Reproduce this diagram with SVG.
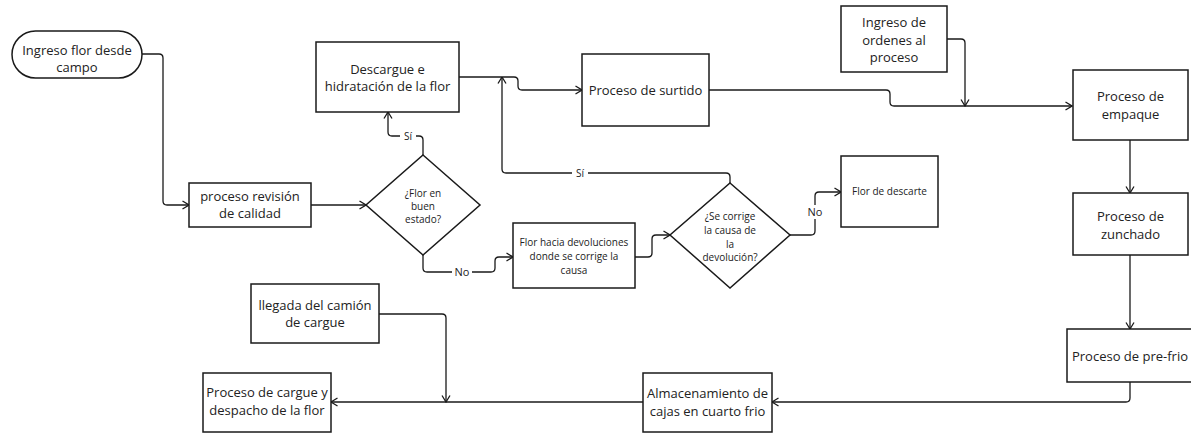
<svg xmlns="http://www.w3.org/2000/svg" width="1191" height="433" viewBox="0 0 1191 433">
<style>
.box{fill:#fff;stroke:#1a1a1a;stroke-width:1.5}
.t{font-family:"Open Sans","Noto Sans",sans-serif;font-size:13px;fill:#222;text-anchor:middle}
.s{font-family:"Open Sans","Noto Sans",sans-serif;font-size:10px;fill:#222;text-anchor:middle}
.c{fill:none;stroke:#1a1a1a;stroke-width:1.3}
.lbl{font-family:"Open Sans","Noto Sans",sans-serif;font-size:11px;fill:#222;text-anchor:middle}
</style>
<defs>
<marker id="arr" viewBox="0 0 8 10" refX="7.5" refY="5" markerWidth="8" markerHeight="10" markerUnits="userSpaceOnUse" orient="auto">
<path d="M1,1 L7.5,5 L1,9" fill="none" stroke="#1a1a1a" stroke-width="1.3"/>
</marker>
</defs>
<rect width="1191" height="433" fill="#fff"/>
<g id="connectors">
<path class="c" d="M142,54 H159 Q163,54 163,58 V201 Q163,205 167,205 H189" marker-end="url(#arr)"/>
<path class="c" d="M311,205 H366" marker-end="url(#arr)"/>
<path class="c" d="M423,155 V140 Q423,136 419,136 H392 Q388,136 388,132 V112" marker-end="url(#arr)"/>
<path class="c" d="M459,77 H514 Q518,77 518,81 V86 Q518,90 522,90 H582" marker-end="url(#arr)"/>
<path class="c" d="M730,183 V177 Q730,173 726,173 H506 Q502,173 502,169 V77" marker-end="url(#arr)"/>
<path class="c" d="M709,90 H886 Q890,90 890,94 V102 Q890,106 894,106 H1072" marker-end="url(#arr)"/>
<path class="c" d="M947,39 H961 Q965,39 965,43 V106" marker-end="url(#arr)"/>
<path class="c" d="M1130,140 V193" marker-end="url(#arr)"/>
<path class="c" d="M1130,255 V329" marker-end="url(#arr)"/>
<path class="c" d="M1130,382 V398 Q1130,402 1126,402 H772" marker-end="url(#arr)"/>
<path class="c" d="M643,402 H331" marker-end="url(#arr)"/>
<path class="c" d="M379,314 H442 Q446,314 446,318 V402" marker-end="url(#arr)"/>
<path class="c" d="M423,255 V268 Q423,272 427,272 H491 Q495,272 495,268 V261 Q495,257 499,257 H513" marker-end="url(#arr)"/>
<path class="c" d="M635,257 H648 Q652,257 652,253 V239 Q652,235 656,235 H670" marker-end="url(#arr)"/>
<path class="c" d="M790,235 H811 Q815,235 815,231 V196 Q815,192 819,192 H841" marker-end="url(#arr)"/>
<rect x="400" y="129" width="16" height="14" fill="#fff"/>
<text class="lbl" x="408" y="140" style="font-size:10px">Sí</text>
<rect x="572" y="166" width="16" height="14" fill="#fff"/>
<text class="lbl" x="580" y="177" style="font-size:10px">Sí</text>
<rect x="452" y="265" width="20" height="14" fill="#fff"/>
<text class="lbl" x="462" y="276">No</text>
<rect x="805" y="205" width="20" height="14" fill="#fff"/>
<text class="lbl" x="815" y="216">No</text>
</g>
<g id="n-ingreso-campo">
<rect class="box" x="12" y="31" width="130" height="47" rx="23.5"/>
<text class="t" x="77" y="55">Ingreso flor desde</text>
<text class="t" x="77" y="72">campo</text>
</g>
<g id="n-revision">
<rect class="box" x="189" y="183" width="122" height="44"/>
<text class="t" x="250" y="201">proceso revisión</text>
<text class="t" x="250" y="218">de calidad</text>
</g>
<g id="n-buen-estado">
<polygon class="box" points="423,155 480,205 423,255 366,205"/>
<text class="s" x="423" y="197">¿Flor en</text>
<text class="s" x="423" y="210">buen</text>
<text class="s" x="423" y="223">estado?</text>
</g>
<g id="n-descargue">
<rect class="box" x="316" y="42" width="143" height="70"/>
<text class="t" x="387.5" y="74">Descargue e</text>
<text class="t" x="387.5" y="91">hidratación de la flor</text>
</g>
<g id="n-surtido">
<rect class="box" x="582" y="54" width="127" height="72"/>
<text class="t" x="645.5" y="95">Proceso de surtido</text>
</g>
<g id="n-ordenes">
<rect class="box" x="841" y="6" width="106" height="66"/>
<text class="t" x="894" y="27">Ingreso de</text>
<text class="t" x="894" y="45">ordenes al</text>
<text class="t" x="894" y="62">proceso</text>
</g>
<g id="n-empaque">
<rect class="box" x="1073" y="70" width="115" height="70"/>
<text class="t" x="1130.5" y="101">Proceso de</text>
<text class="t" x="1130.5" y="119">empaque</text>
</g>
<g id="n-zunchado">
<rect class="box" x="1073" y="193" width="115" height="62"/>
<text class="t" x="1130.5" y="221">Proceso de</text>
<text class="t" x="1130.5" y="239">zunchado</text>
</g>
<g id="n-prefrio">
<rect class="box" x="1067" y="329" width="126" height="53"/>
<text class="t" x="1130" y="361">Proceso de pre-frio</text>
</g>
<g id="n-almacenamiento">
<rect class="box" x="643" y="373" width="129" height="59"/>
<text class="t" x="707.5" y="398">Almacenamiento de</text>
<text class="t" x="707.5" y="416">cajas en cuarto frio</text>
</g>
<g id="n-cargue">
<rect class="box" x="203" y="373" width="128" height="59"/>
<text class="t" x="267" y="397">Proceso de cargue y</text>
<text class="t" x="267" y="415">despacho de la flor</text>
</g>
<g id="n-llegada">
<rect class="box" x="251" y="284" width="128" height="59"/>
<text class="t" x="315" y="310">llegada del camión</text>
<text class="t" x="315" y="327">de cargue</text>
</g>
<g id="n-devoluciones">
<rect class="box" x="513" y="223" width="122" height="65"/>
<text class="s" x="574" y="246">Flor hacia devoluciones</text>
<text class="s" x="574" y="260">donde se corrige la</text>
<text class="s" x="574" y="274">causa</text>
</g>
<g id="n-corrige">
<polygon class="box" points="730,183 790,235 730,288 670,235"/>
<text class="s" x="730" y="220">¿Se corrige</text>
<text class="s" x="730" y="234">la causa de</text>
<text class="s" x="730" y="248">la</text>
<text class="s" x="730" y="261">devolución?</text>
</g>
<g id="n-descarte">
<rect class="box" x="841" y="156" width="97" height="71"/>
<text class="s" x="889.5" y="195">Flor de descarte</text>
</g>
</svg>
